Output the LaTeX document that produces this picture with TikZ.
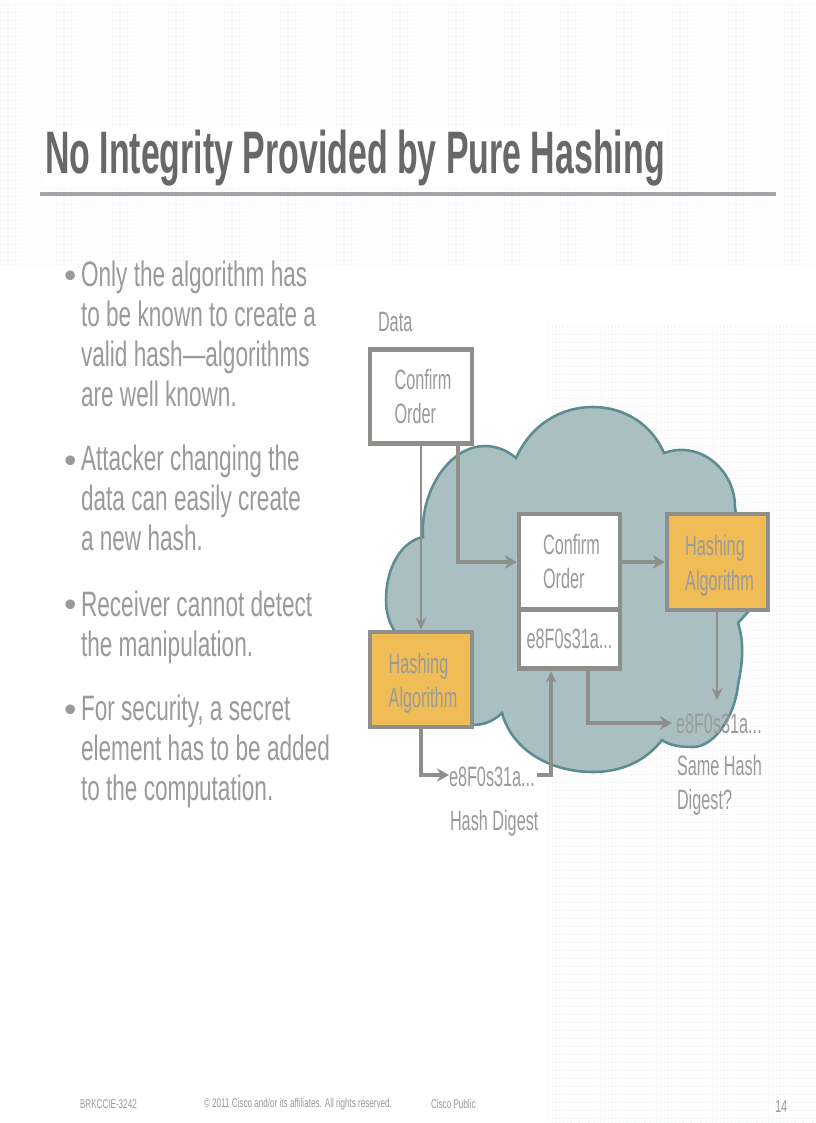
\documentclass[tikz,border=0pt]{standalone}
\usepackage{fontspec}
\setmainfont{Liberation Sans}
\newfontfamily\ttlfont[FakeStretch=0.565]{Liberation Sans Bold}
\newfontfamily\bulfont[FakeStretch=0.64]{Liberation Sans}
\newfontfamily\lblfont[FakeStretch=0.58]{Liberation Sans}
\newfontfamily\footfont[FakeStretch=0.64]{Liberation Sans}
\newcommand{\nudgex}{\hspace*{3pt}}
\newcommand{\nudgey}{\rule{0pt}{21pt}}
\usetikzlibrary{arrows.meta,calc}
\definecolor{txt}{HTML}{9A9A9A}
\definecolor{ttl}{HTML}{686868}
\definecolor{edge}{HTML}{8E8E8A}
\definecolor{cloudfill}{HTML}{AABFC2}
\definecolor{cloudedge}{HTML}{5B8C92}
\definecolor{hashfill}{HTML}{F0BC55}
\definecolor{rule}{HTML}{A4A4A8}
\definecolor{dotA}{HTML}{E6E6EE}
\definecolor{dotB}{HTML}{F0F4F0}
\tikzset{
  x=0.75pt,y=-0.75pt,
  lbl/.style={inner sep=0pt,outer sep=0pt,text=txt,font=\lblfont\fontsize{21}{26}\selectfont,align=left},
  bul/.style={inner sep=0pt,outer sep=0pt,text=txt,font=\bulfont\fontsize{26.5}{30}\selectfont,align=left,anchor=north west},
  bulmark/.style={inner sep=0pt,outer sep=0pt,text=txt,font=\fontsize{26.5}{30}\selectfont,anchor=base west},
  foot/.style={inner sep=0pt,outer sep=0pt,text=txt,font=\footfont\fontsize{9.5}{11}\selectfont,anchor=west},
  plainbox/.style={draw=edge,line width=3.4pt,fill=white,inner sep=0pt,text=txt,font=\lblfont\fontsize{21}{26}\selectfont,align=left},
  hashbox/.style={plainbox,fill=hashfill},
  thinarrow/.style={draw=edge,line width=2pt,-{Stealth[length=9pt,width=8pt]}},
  thickarrow/.style={draw=edge,line width=3pt,-{Stealth[length=9pt,width=10pt]}},
  dots/.style={draw=dotA,line width=0.6pt,dash pattern=on 0.8pt off 2pt},
  dotsb/.style={draw=dotB,line width=0.6pt,dash pattern=on 0.8pt off 2pt},
}
\begin{document}
\begin{tikzpicture}
\useasboundingbox (0,0) rectangle (816,1123);
\fill[white] (0,0) rectangle (816,1123);
% background texture
\foreach \yy in {4,12,...,264} {\path[dots] (0,\yy) -- (816,\yy);}
\foreach \yy in {8,16,...,264} {\path[dotsb] (0,\yy) -- (816,\yy);}
\foreach \yy in {326,334,...,1123} {\path[dots] (548,\yy) -- (816,\yy);}
\foreach \yy in {330,338,...,1123} {\path[dotsb] (548,\yy) -- (816,\yy);}
% title
\path[fill=white] (44,128) rectangle (668,186);
\node[inner sep=0pt,outer sep=0pt,anchor=base west,text=ttl,font=\ttlfont\fontsize{45}{50}\selectfont] (title) at (45,174) {No Integrity Provided by Pure Hashing};
\coordinate (ruleL) at (40,194);
\coordinate (ruleR) at (776,194);
\draw[rule,line width=2.6pt] (ruleL) -- (ruleR);
% bullets
\node[bulmark] (b0) at (64,287) {•};
\node[bul] (b1) at (81,261) {Only the algorithm has\\to be known to create a\\valid hash—algorithms\\are well known.};
\node[bulmark] (b0b) at (64,472) {•};
\node[bul] (b2) at (81,445) {Attacker changing the\\data can easily create\\a new hash.};
\node[bulmark] (b0c) at (64,616) {•};
\node[bul] (b3) at (81,591) {Receiver cannot detect\\the manipulation.};
\node[bulmark] (b0d) at (64,721) {•};
\node[bul] (b4) at (81,695) {For security, a secret\\element has to be added\\to the computation.};
% cloud
\draw[fill=cloudfill,draw=cloudedge,line width=1.9pt]
  (516,458) .. controls (531,425) and (560,407) .. (593,407)
  .. controls (625,407) and (652,425) .. (664,453)
  .. controls (700,440) and (735,470) .. (735,507)
  -- (748,612) -- (738,623)
  .. controls (745,645) and (742,665) .. (738,685)
  .. controls (735,715) and (715,747) .. (693,747)
  .. controls (682,747) and (670,746) .. (662,740)
  .. controls (645,762) and (620,772) .. (593,772)
  .. controls (550,772) and (512,750) .. (502,713)
  .. controls (493,722) and (482,725) .. (473,725)
  -- (400,640)
  .. controls (392,628) and (386,618) .. (386,600)
  .. controls (386,565) and (403,541) .. (423,537)
  .. controls (420,490) and (450,446) .. (485,446)
  .. controls (497,446) and (508,451) .. (516,458) -- cycle;
% boxes
\node[plainbox,minimum width=76.5pt,minimum height=70.5pt] (data) at (421,396.5) {\nudgex Confirm\\\nudgex Order};
\node[plainbox,minimum width=75.5pt,minimum height=71pt] (order) at (569.5,561.5) {\nudgex Confirm\\\nudgex Order};
\node[plainbox,minimum width=75.5pt,minimum height=44.5pt] (sum) at (569.5,639) {e8F0s31a...};
\node[hashbox,minimum width=75.5pt,minimum height=72pt] (hashR) at (717.5,562) {\nudgey\nudgex Hashing\\\nudgex Algorithm};
\node[hashbox,minimum width=76.5pt,minimum height=71.5pt] (hashL) at (421,679.5) {\nudgey\nudgex Hashing\\\nudgex Algorithm};
% labels
\node[lbl,anchor=base west] (datalbl) at (378,331) {Data};
\node[lbl,anchor=base west] (digestL) at (449,786) {e8F0s31a...};
\node[lbl,anchor=base west] (digestname) at (450,830) {Hash Digest};
\node[lbl,anchor=base west] (digestR) at (676,733) {e8F0s31a...};
\node[lbl,anchor=north west] (same) at (677,755) {Same Hash\\Digest?};
% connector helpers
\coordinate (dataOut) at (458,562);
\coordinate (sumIn) at (551,775);
\coordinate (sumOut) at (588,723);
\coordinate (rightDown) at (717,700);
\coordinate (leftDown) at (421,775);
\coordinate (digestLend) at (537,775);
% connectors
\draw[thinarrow] (data.south) -- (hashL.north);
\draw[thickarrow] (data.south -| dataOut) -- (dataOut) -- (order.west |- dataOut);
\draw[thickarrow] (order.east |- dataOut) -- (hashR.west |- dataOut);
\draw[thinarrow] (hashR.south -| rightDown) -- (rightDown);
\draw[thickarrow] (sum.south -| sumOut) -- (sumOut) -- (672,723);
\draw[thickarrow] (hashL.south) -- (leftDown) -- (digestL.west |- leftDown);
\draw[draw=edge,line width=2.4pt,-{Stealth[length=9pt,width=8pt]}] (digestLend) -- (sumIn) -- (sum.south -| sumIn);
% footer
\node[foot] (f1) at (80,1104) {BRKCCIE-3242};
\node[foot] (f2) at (204,1104) {© 2011 Cisco and/or its affiliates. All rights reserved.};
\node[foot] (f3) at (431,1104) {Cisco Public};
\node[foot,font=\footfont\fontsize{13}{15}\selectfont] (f4) at (775,1107) {14};
\end{tikzpicture}
\end{document}
